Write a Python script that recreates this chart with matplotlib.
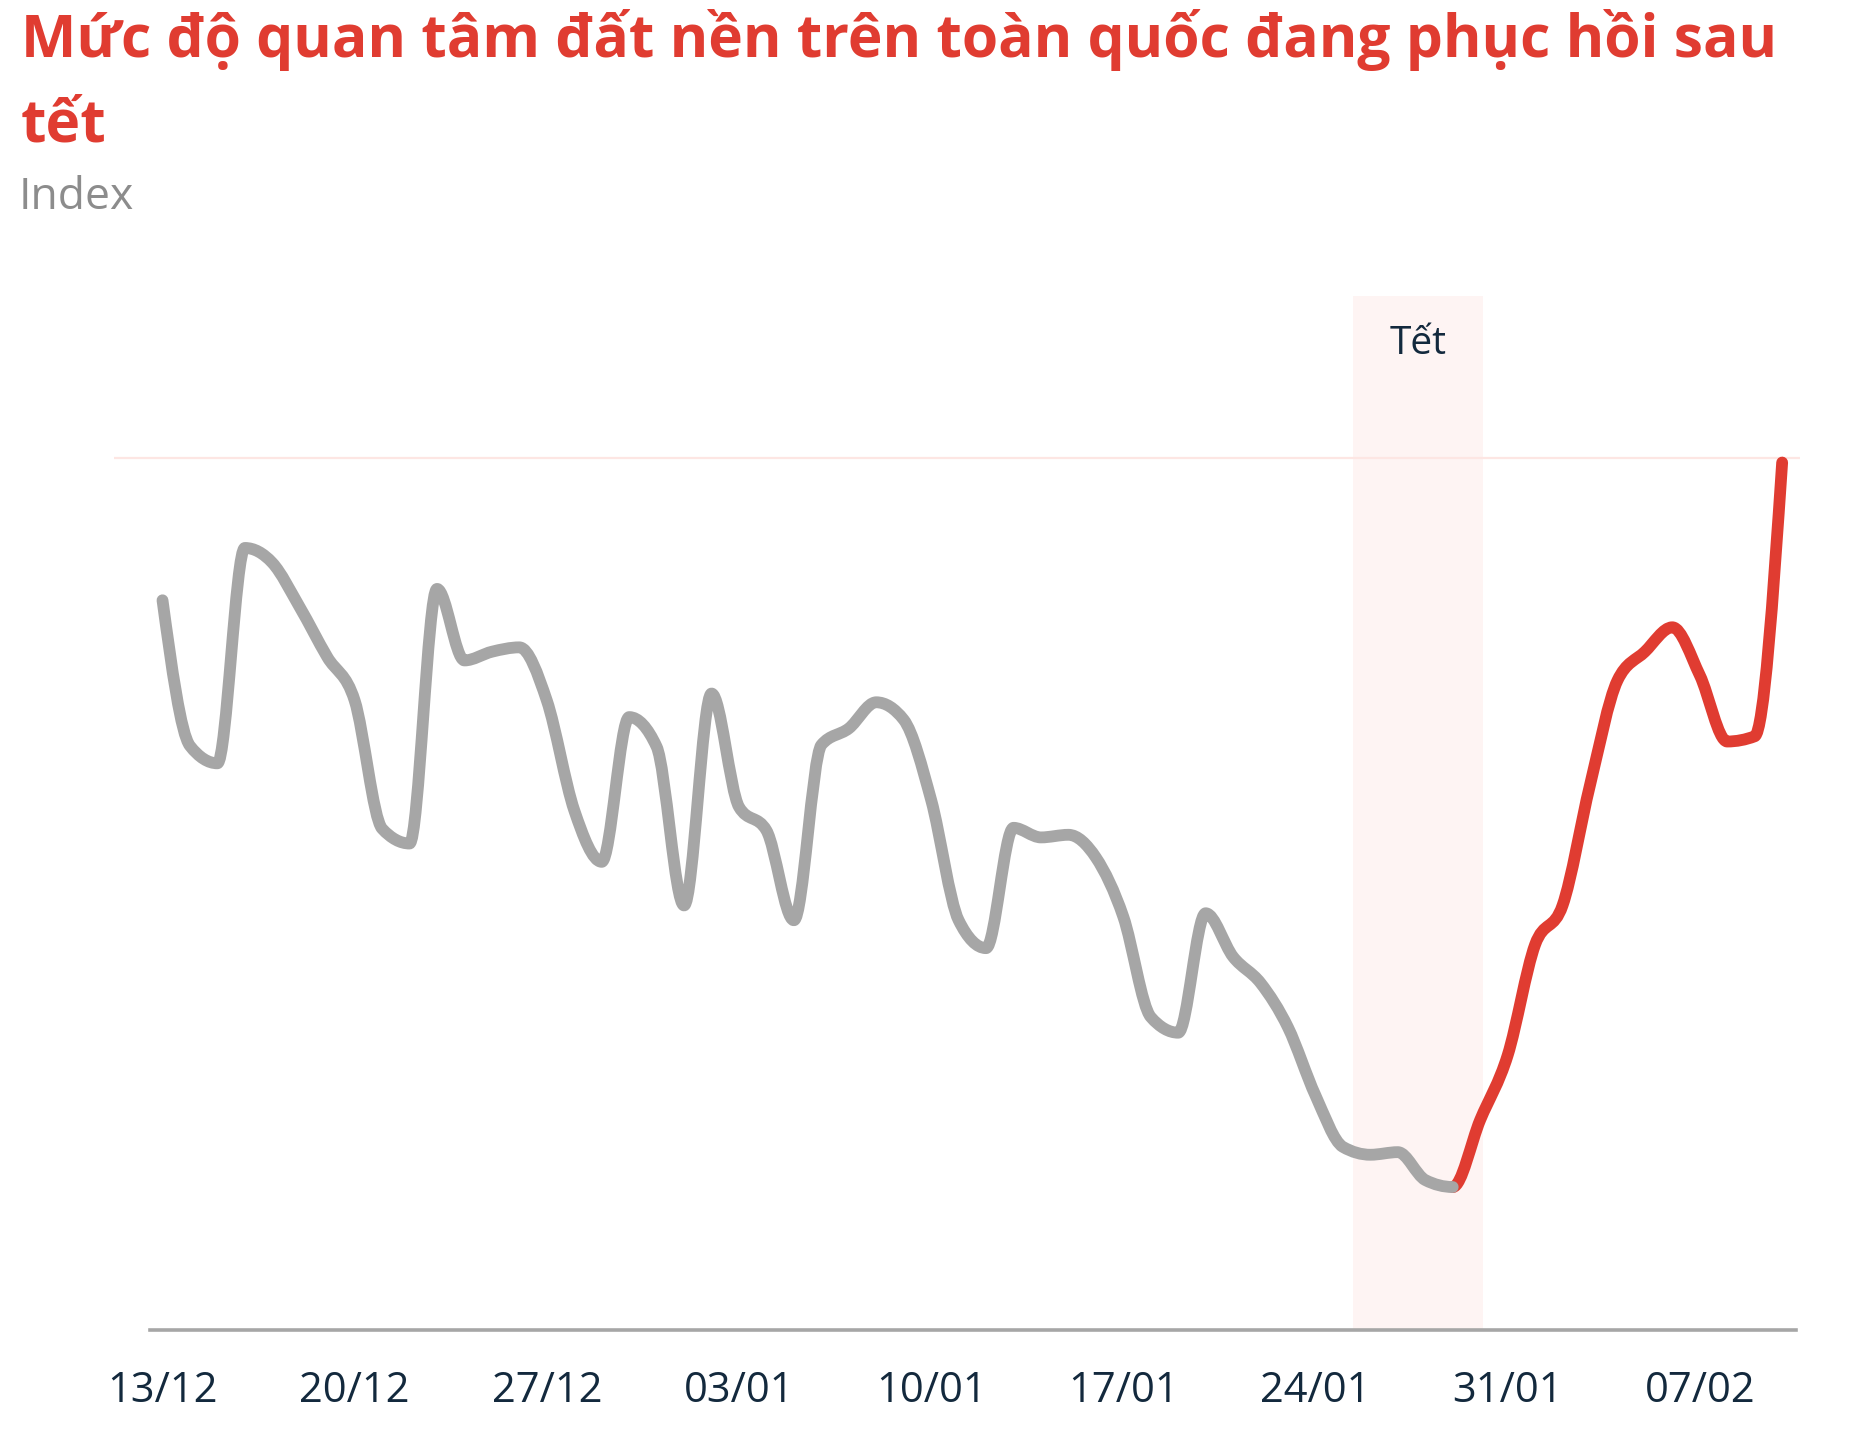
import numpy as np
import pandas as pd
import matplotlib
matplotlib.use('Agg')
import matplotlib.pyplot as plt
from matplotlib.path import Path
from matplotlib.patches import PathPatch

plt.rcParams['font.family'] = ['Open Sans', 'DejaVu Sans']

# Daily interest index (13/12 -> 10/02)
dates = pd.date_range('2022-12-13', '2023-02-10', freq='D')
interest = [83.7, 67.0, 65.0, 89.7, 88.0, 82.9, 77.2, 72.2, 57.5, 55.8,
            85.0, 76.8, 77.8, 78.3, 72.2, 59.6, 53.7, 70.3, 66.9, 48.7,
            73.0, 60.0, 57.3, 47.0, 67.1, 69.0, 72.0, 70.0, 60.8, 47.0,
            43.8, 57.6, 56.5, 56.8, 54.2, 47.4, 35.9, 34.1, 47.8, 42.8,
            39.8, 34.7, 26.9, 21.0, 20.1, 20.4, 17.2, 16.4, 24.1, 31.5,
            44.2, 48.7, 62.5, 74.5, 77.8, 80.6, 75.1, 67.5, 68.1, 99.5]
recovery_start = pd.Timestamp('2023-01-29')   # red part starts here
tet_start, tet_end = 43.35, 48.1               # shaded Tết window (days from 13/12)
ref_level = 100

title = 'Mức độ quan tâm đất nền trên toàn quốc đang phục hồi sau'
title_2 = 'tết'
subtitle = 'Index'

RED = '#e03c31'
GREY = '#a6a6a6'
NAVY = '#13293d'

W, H = 1856, 1440


def monotone_slopes(x, y):
    # tangents like d3's curveMonotoneX (no overshoot at peaks)
    n = len(x)
    h = np.diff(x)
    s = np.diff(y) / h
    m = np.zeros(n)
    for i in range(1, n - 1):
        p = (s[i - 1] * h[i] + s[i] * h[i - 1]) / (h[i - 1] + h[i])
        m[i] = (np.sign(s[i - 1]) + np.sign(s[i])) * min(abs(s[i - 1]), abs(s[i]), 0.5 * abs(p))
    m[0] = (3 * s[0] - m[1]) / 2
    m[-1] = (3 * s[-1] - m[-2]) / 2
    return m


def smooth_path(x, y, m, a, b):
    verts = [(x[a], y[a])]
    codes = [Path.MOVETO]
    for i in range(a, b):
        dx = (x[i + 1] - x[i]) / 3
        verts += [(x[i] + dx, y[i] + dx * m[i]),
                  (x[i + 1] - dx, y[i + 1] - dx * m[i + 1]),
                  (x[i + 1], y[i + 1])]
        codes += [Path.CURVE4] * 3
    return Path(verts, codes)


pos = np.arange(len(dates), dtype=float)
vals = np.array(interest, dtype=float)
slopes = monotone_slopes(pos, vals)
split = int(np.where(dates == recovery_start)[0][0])

fig = plt.figure(figsize=(W / 100, H / 100), dpi=100)
ax = fig.add_axes([114 / W, 1 - 1330 / H, (1800 - 114) / W, (1330 - 296) / H])
ax.set_xlim(-1.767, 59.65)
ax.set_ylim(0, 118.6)

ax.axvspan(tet_start, tet_end, color='#fef4f3', lw=0, zorder=0)
ax.axhline(ref_level, color='#fde6e3', lw=1.6, zorder=1)
ax.text((tet_start + tet_end) / 2, 112, 'Tết', ha='center', va='baseline',
        fontsize=28, color=NAVY)

red = PathPatch(smooth_path(pos, vals, slopes, split, len(pos) - 1), fill=False,
                edgecolor=RED, lw=8.5, capstyle='round', joinstyle='round', zorder=3)
grey = PathPatch(smooth_path(pos, vals, slopes, 0, split), fill=False,
                 edgecolor=GREY, lw=8.5, capstyle='round', joinstyle='round', zorder=4)
ax.add_patch(red)
ax.add_patch(grey)

for s in ['top', 'left', 'right']:
    ax.spines[s].set_visible(False)
ax.spines['bottom'].set_color(GREY)
ax.spines['bottom'].set_linewidth(2.6)
ax.spines['bottom'].set_bounds(-0.45, 59.5)

ax.set_xticks(pos[::7])
ax.set_xticklabels(dates[::7].strftime('%d/%m'))
ax.set_yticks([])
ax.tick_params(axis='x', length=0, pad=29, labelsize=30, labelcolor=NAVY)

t1 = fig.text(21 / W, 1 - 57 / H, title, fontsize=45, fontweight='bold',
              fontstretch='condensed', color=RED, va='baseline', ha='left')
t2 = fig.text(21 / W, 1 - 141 / H, title_2, fontsize=45, fontweight='bold',
              fontstretch='condensed', color=RED, va='baseline', ha='left')
fig.text(19 / W, 1 - 209 / H, subtitle, fontsize=32, color='#8c8c8c',
         va='baseline', ha='left')

# fit the first title line to the width seen in the chart
fig.canvas.draw()
bb = t1.get_window_extent()
size = t1.get_fontsize() * 1755 / bb.width
t1.set_fontsize(size)
t2.set_fontsize(size)

fig.savefig('out.png', dpi=100)
